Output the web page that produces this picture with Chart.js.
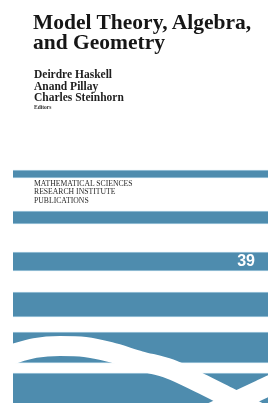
<!DOCTYPE html>
<html>
<head>
<meta charset="utf-8">
<script src="https://cdn.jsdelivr.net/npm/chart.js@4"></script>
<style>
  html, body { margin: 0; padding: 0; background: #ffffff; }
  #wrap { position: relative; width: 268px; height: 403px; overflow: hidden; background: #ffffff; }
  #wrap canvas { position: absolute; left: 0; top: 0; }
  .t { position: absolute; white-space: nowrap; margin: 0; }
  #title { left: 33px; top: 12px; font: bold 21.5px/20px "Liberation Serif", "Times New Roman", serif; color: #161616; }
  #authors { left: 34px; top: 69px; font: bold 11.5px/11.5px "Liberation Serif", "Times New Roman", serif; color: #1e1e1e; }
  #editors { left: 34px; top: 104.7px; font: bold 5.5px/5.5px "Liberation Serif", "Times New Roman", serif; color: #333; }
  #series { left: 34px; top: 180px; font: 7.7px/8.4px "Liberation Serif", "Times New Roman", serif; color: #2a2a2a; }
  #vol { right: 13px; top: 253.2px; font: bold 16px/16px "Liberation Sans", Arial, sans-serif; color: #ffffff; }
</style>
</head>
<body>
<div id="wrap">
  <canvas id="c" width="268" height="403"></canvas>
  <div class="t" id="title">Model Theory, Algebra,<br>and Geometry</div>
  <div class="t" id="authors">Deirdre Haskell<br>Anand Pillay<br>Charles Steinhorn</div>
  <div class="t" id="editors">Editors</div>
  <div class="t" id="series">MATHEMATICAL SCIENCES<br>RESEARCH INSTITUTE<br>PUBLICATIONS</div>
  <div class="t" id="vol">39</div>
</div>
<script>
// Horizontal bands (top and bottom edge, in pixel-like units of the cover, y downward)
const bandTop    = [170, 211, 252, 292, 332, 373];
const bandBottom = [178, 224, 271, 317, 363, 404];

// White wave A (arch over band 5, descending through band 6)
const waveAX = [-10, 13, 35, 60, 85, 110, 140, 170, 200, 230, 260, 290];
const waveAY = [362, 354, 348, 346, 347, 352, 361, 369, 383, 398, 413, 428];

// White wave B (rising to the right across band 6)
const waveBX = [200, 230, 260, 290, 320];
const waveBY = [418, 404, 390, 376, 364];

const BLUE = '#4e8cae';
const EDGE = '#a3c9dc';

const bandSets = bandTop.map((t, i) => ({
  type: 'bar',
  label: 'band' + (i + 1),
  data: [[t, bandBottom[i]]],
  backgroundColor: BLUE,
  borderColor: EDGE,
  borderWidth: { top: 1, bottom: 1, left: 0, right: 0 },
  borderSkipped: false,
  grouped: false,
  barPercentage: 1,
  categoryPercentage: 1,
  xAxisID: 'x',
  yAxisID: 'y',
  order: 2
}));

function pts(xs, ys) { return xs.map((x, i) => ({ x: x, y: ys[i] })); }

const waveSets = [
  { type: 'line', label: 'waveA', data: pts(waveAX, waveAY) },
  { type: 'line', label: 'waveB', data: pts(waveBX, waveBY) }
].map(d => Object.assign(d, {
  borderColor: '#ffffff',
  borderWidth: 20,
  pointRadius: 0,
  tension: 0.4,
  cubicInterpolationMode: 'monotone',
  fill: false,
  borderCapStyle: 'butt',
  xAxisID: 'xc',
  yAxisID: 'y',
  order: 0
}));

new Chart(document.getElementById('c'), {
  data: { labels: [''], datasets: bandSets.concat(waveSets) },
  options: {
    responsive: false,
    animation: false,
    devicePixelRatio: 1,
    layout: { padding: { left: 13, right: 0, top: 0, bottom: 0 } },
    plugins: { legend: { display: false }, tooltip: { enabled: false }, title: { display: false } },
    events: [],
    scales: {
      x: { type: 'category', display: false, offset: true, grid: { display: false } },
      xc: { type: 'linear', display: false, min: 13, max: 268 },
      y: { type: 'linear', display: false, reverse: true, min: 0, max: 403 }
    }
  }
});
</script>
</body>
</html>
